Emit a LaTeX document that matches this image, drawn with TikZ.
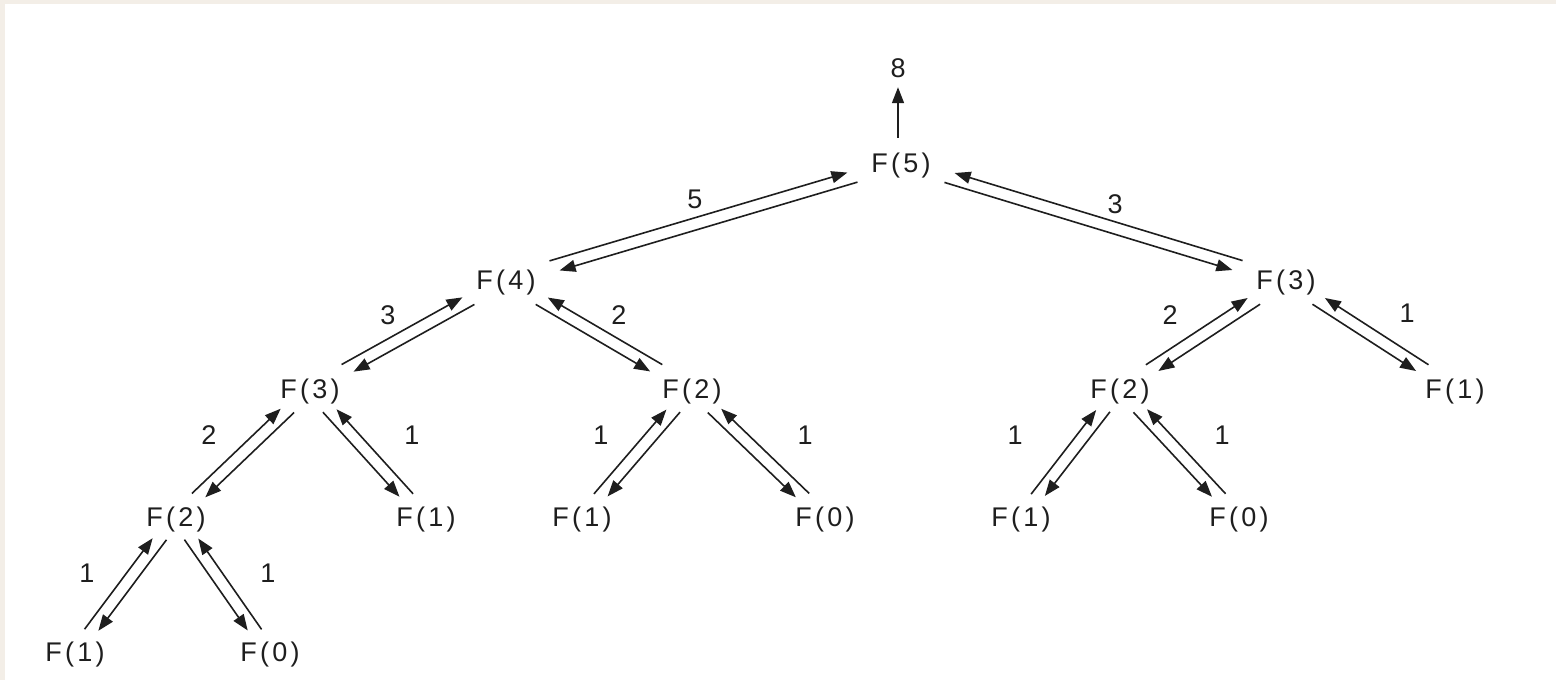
\documentclass[tikz,border=0pt]{standalone}
\usepackage{fontspec}
\setmainfont{Liberation Sans}[LetterSpace=12]
\usetikzlibrary{arrows.meta,calc}

\definecolor{frame}{HTML}{F3EEE7}
\definecolor{ink}{HTML}{1E1E1E}

% Draws the call (down) and return (up) arrows between a caller and a callee,
% as two parallel lines: the return line on the upper side, the call line below.
\newcommand\callpair[2]{% #1 = caller, #2 = callee
  \pgfpointdiff{\pgfpointanchor{#2}{center}}{\pgfpointanchor{#1}{center}}%
  \pgfgetlastxy{\cpdx}{\cpdy}%
  \pgfmathsetmacro\cpang{atan2(\cpdy,\cpdx)}%
  \pgfmathsetmacro\cpup{ifthenelse(\cpang<90,\cpang+90,\cpang-90)}%
  \draw[link, transform canvas={shift={(\cpup:6pt)}}] (#2) -- (#1);
  \draw[link, transform canvas={shift={(\cpup+180:6pt)}}] (#1) -- (#2);
}

\begin{document}
\begin{tikzpicture}[x=1pt, y=1pt,
  fn/.style={inner sep=0pt, minimum width=90pt, minimum height=38pt,
    text height=19pt, text depth=0pt, font=\fontsize{27}{32}\selectfont, text=ink},
  val/.style={inner sep=0pt, text height=19pt, text depth=0pt,
    font=\fontsize{27}{32}\selectfont, text=ink},
  link/.style={draw=ink, line width=1.6pt, -{Triangle[length=16pt,width=12pt]}, shorten >=7pt},
]
% page and frame
\fill[frame] (0,0) rectangle (1556,-680);
\fill[white] (5,-4) rectangle (1556,-680);
\useasboundingbox (0,0) rectangle (1556,-680);

% call tree of F(5)
\node[fn] (res) at (898,-68)  {8};
\node[fn] (f5)  at (901,-163) {F(5)};
\node[fn] (f4)  at (506,-280) {F(4)};
\node[fn] (f3r) at (1286,-280) {F(3)};
\node[fn] (f3l) at (310,-389) {F(3)};
\node[fn] (f2m) at (692,-389) {F(2)};
\node[fn] (f2r) at (1120,-389) {F(2)};
\node[fn] (f1r) at (1455,-389) {F(1)};
\node[fn] (f2l) at (176,-517) {F(2)};
\node[fn] (f1a) at (426,-517) {F(1)};
\node[fn] (f1b) at (582,-517) {F(1)};
\node[fn] (f0b) at (825,-517) {F(0)};
\node[fn] (f1c) at (1021,-517) {F(1)};
\node[fn] (f0c) at (1239,-517) {F(0)};
\node[fn] (f1d) at (75,-652) {F(1)};
\node[fn] (f0d) at (270,-652) {F(0)};

% final result
\draw[link, shorten >=0pt, shorten <=6pt] (res.south |- f5.north) -- (res.south);

% calls and returns
\callpair{f5}{f4}
\callpair{f5}{f3r}
\callpair{f4}{f3l}
\callpair{f4}{f2m}
\callpair{f3r}{f2r}
\callpair{f3r}{f1r}
\callpair{f3l}{f2l}
\callpair{f3l}{f1a}
\callpair{f2m}{f1b}
\callpair{f2m}{f0b}
\callpair{f2r}{f1c}
\callpair{f2r}{f0c}
\callpair{f2l}{f1d}
\callpair{f2l}{f0d}

% returned values
\node[val] (v54)  at (695,-199) {5};
\node[val] (v53)  at (1115,-204) {3};
\node[val] (v43)  at (388,-315) {3};
\node[val] (v42)  at (619,-315) {2};
\node[val] (v32)  at (1170,-315) {2};
\node[val] (v31)  at (1407,-313) {1};
\node[val] (v32l) at (209,-435) {2};
\node[val] (v31l) at (412,-435) {1};
\node[val] (v21m) at (601,-435) {1};
\node[val] (v20m) at (805,-435) {1};
\node[val] (v21r) at (1015,-435) {1};
\node[val] (v20r) at (1222,-435) {1};
\node[val] (v21l) at (87,-573) {1};
\node[val] (v20l) at (268,-573) {1};
\end{tikzpicture}
\end{document}
